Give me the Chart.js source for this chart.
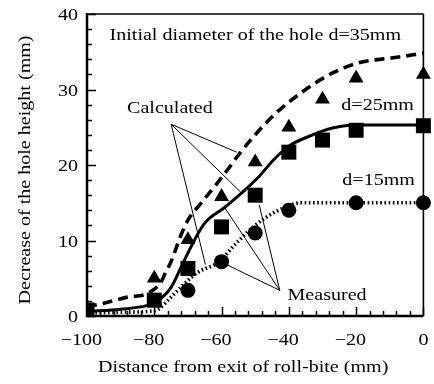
<!DOCTYPE html>
<html>
<head>
<meta charset="utf-8">
<script src="https://cdn.jsdelivr.net/npm/chart.js@4/dist/chart.umd.min.js"></script>
<style>
  html, body { margin: 0; background: #fff; }
  canvas { display: block; }
</style>
</head>
<body>
<canvas id="chart" width="434" height="384"></canvas>
<script>
const SERIF = '"Liberation Serif", "DejaVu Serif", serif';

// calculated curves, [distance (mm), decrease (mm)]
const calc35 = [[-100, 1.2], [-95, 1.7], [-88, 2.5], [-82, 3], [-78, 4.5], [-76.7, 5.7], [-75, 7.2],
  [-72, 10.8], [-70, 12.7], [-66, 15], [-62, 17.2], [-58, 19.5], [-54, 21.9], [-50, 24],
  [-44, 26.8], [-35, 30], [-26.5, 32.3], [-18.6, 33.6], [-9, 34.2], [0, 34.8]];
const calc25 = [[-100, 0.6], [-90, 0.9], [-82, 1.4], [-79, 2], [-75, 3.8], [-72, 6.5], [-68, 10.1],
  [-65, 12.3], [-59, 14.4], [-54, 16.3], [-49, 18.4], [-44.5, 20.7], [-40, 22.5], [-34, 23.8],
  [-27, 24.9], [-20, 25.3], [0, 25.3]];
const calc15 = [[-100, 0.4], [-90, 0.5], [-80, 0.7], [-78.8, 0.9], [-75, 2.5], [-71, 4.3], [-67, 5.8],
  [-61, 7.1], [-55.5, 9.7], [-50, 12], [-44, 13.8], [-36, 15], [0, 15]];

// measured points
const meas35X = [-80, -70, -60, -50, -40, -30, -20, 0];
const meas35Y = [5.0, 10.1, 15.8, 20.4, 25.0, 28.7, 31.5, 32.0];
const meas25X = [-100, -80, -70, -60, -50, -40, -30, -20, 0];
const meas25Y = [0.8, 2.1, 6.3, 11.8, 16.0, 21.7, 23.3, 24.6, 25.2];
const meas15X = [-70, -60, -50, -40, -20, 0];
const meas15Y = [3.4, 7.2, 11.0, 14.0, 15.0, 15.0];

const xTicks = [-100, -80, -60, -40, -20, 0];
const yTicks = [0, 10, 20, 30, 40];

// leader lines of the "Calculated" and "Measured" notes
const calcFrom = [-75, 25.4];
const calcTo = [[-55.5, 21.7], [-54.3, 16.4], [-64.8, 6.8]];
const measFrom = [-42.7, 3.4];
const measTo = [[-58.5, 6.8], [-59, 14.3], [-48.8, 14.7]];

const toXY = (xs, ys) => xs.map((x, i) => ({ x: x, y: ys[i] }));
const pairs = (list) => list.map(([x, y]) => ({ x: x, y: y }));

function text(ctx, str, x, y, align) {
  // scanned figure: glyphs look a bit wider than they are tall
  const sx = 1.18;
  ctx.save();
  ctx.font = `17px ${SERIF}`;
  const w = ctx.measureText(str).width * sx;
  let left = x;
  if (align === "center") left = x - w / 2;
  if (align === "right") left = x - w;
  ctx.translate(left, y);
  ctx.scale(sx, 1);
  ctx.textAlign = "left";
  ctx.textBaseline = "alphabetic";
  ctx.fillText(str, 0, 0);
  ctx.restore();
  return w;
}

const paperPlugin = {
  id: "paper",
  beforeDraw(chart) {
    const ctx = chart.ctx;
    ctx.save();
    ctx.fillStyle = "#fff";
    ctx.fillRect(0, 0, chart.width, chart.height);
    ctx.restore();
  },
  afterDraw(chart) {
    const { ctx, chartArea: a, scales: { x, y } } = chart;
    ctx.save();
    ctx.strokeStyle = "#000";
    ctx.fillStyle = "#000";

    // frame
    ctx.lineWidth = 1.6;
    ctx.beginPath();
    ctx.moveTo(a.left, a.top); ctx.lineTo(a.right, a.top);
    ctx.moveTo(a.right, a.top); ctx.lineTo(a.right, a.bottom);
    ctx.stroke();
    ctx.lineWidth = 2.5;
    ctx.beginPath();
    ctx.moveTo(a.left, a.top - 1); ctx.lineTo(a.left, a.bottom);
    ctx.lineTo(a.right, a.bottom);
    ctx.stroke();

    // inward ticks
    ctx.lineWidth = 1.5;
    ctx.beginPath();
    for (let v = 0; v <= 40; v += 2) {
      const py = Math.round(y.getPixelForValue(v)) + 0.5;
      const len = v % 10 === 0 ? 9 : 5;
      ctx.moveTo(a.left, py); ctx.lineTo(a.left + len, py);
    }
    for (let v = -100; v <= 0; v += 4) {
      const px = Math.round(x.getPixelForValue(v)) + 0.5;
      const len = v % 20 === 0 ? 9 : 5;
      ctx.moveTo(px, a.bottom); ctx.lineTo(px, a.bottom - len);
    }
    ctx.stroke();

    // tick labels
    yTicks.forEach((v) => {
      text(ctx, String(v), a.left - 9, y.getPixelForValue(v) + 6, "right");
    });
    ctx.font = `17px ${SERIF}`;
    const minusW = ctx.measureText("\u2212").width * 1.18;
    xTicks.forEach((v) => {
      const label = v < 0 ? "\u2212" + Math.abs(v) : String(v);
      let px = x.getPixelForValue(v) - (v < 0 ? minusW / 2 : 0);
      px = Math.min(px, chart.width - 8);
      text(ctx, label, px, a.bottom + 29, "center");
    });

    // leader lines
    ctx.lineWidth = 1;
    ctx.beginPath();
    calcTo.forEach(([tx, ty]) => {
      ctx.moveTo(x.getPixelForValue(calcFrom[0]), y.getPixelForValue(calcFrom[1]));
      ctx.lineTo(x.getPixelForValue(tx), y.getPixelForValue(ty));
    });
    measTo.forEach(([tx, ty]) => {
      ctx.moveTo(x.getPixelForValue(measFrom[0]), y.getPixelForValue(measFrom[1]));
      ctx.lineTo(x.getPixelForValue(tx), y.getPixelForValue(ty));
    });
    ctx.stroke();

    // notes
    text(ctx, "Initial diameter of the hole d=35mm", x.getPixelForValue(-93.3), y.getPixelForValue(36.6), "left");
    text(ctx, "d=25mm", x.getPixelForValue(-24.4), y.getPixelForValue(27.3), "left");
    text(ctx, "d=15mm", x.getPixelForValue(-24.1), y.getPixelForValue(17.4), "left");
    text(ctx, "Calculated", x.getPixelForValue(-88.1), y.getPixelForValue(26.9), "left");
    text(ctx, "Measured", x.getPixelForValue(-40.4), y.getPixelForValue(2.1), "left");

    // axis titles
    text(ctx, "Distance from exit of roll-bite (mm)", (a.left + a.right) / 2 - 12, a.bottom + 56, "center");
    ctx.save();
    ctx.translate(a.left - 57, (a.top + a.bottom) / 2 + 5);
    ctx.rotate(-Math.PI / 2);
    text(ctx, "Decrease of the hole height (mm)", 0, 0, "center");
    ctx.restore();

    ctx.restore();
  },
};

function curve(data, width, dash) {
  return {
    data: pairs(data),
    showLine: true,
    borderColor: "#000",
    borderWidth: width,
    borderDash: dash,
    pointRadius: 0,
    cubicInterpolationMode: "monotone",
    clip: 2,
  };
}

function marks(data, style, radius) {
  return {
    data: data,
    showLine: false,
    pointStyle: style,
    pointRadius: radius,
    pointBackgroundColor: "#000",
    pointBorderWidth: 0,
    clip: { left: 0, top: false, right: false, bottom: 0 },
  };
}

new Chart(document.getElementById("chart"), {
  type: "scatter",
  data: {
    datasets: [
      curve(calc35, 3.6, [10, 6]),
      curve(calc25, 3, []),
      curve(calc15, 3.6, [1.6, 2.6]),
      marks(toXY(meas35X, meas35Y), "triangle", 8.6),
      marks(toXY(meas25X, meas25Y), "rect", 10.6),
      marks(toXY(meas15X, meas15Y), "circle", 7.5),
    ],
  },
  options: {
    responsive: false,
    animation: false,
    devicePixelRatio: 1,
    layout: { padding: { top: 14, right: 2, left: 0, bottom: 0 } },
    plugins: { legend: { display: false }, tooltip: { enabled: false } },
    scales: {
      x: {
        type: "linear",
        min: -100,
        max: 0,
        grid: { display: false },
        border: { display: false },
        ticks: { display: false, stepSize: 20 },
        afterFit(scale) {
          scale.height = 68;
          scale.paddingLeft = 0;
          scale.paddingRight = 0;
        },
      },
      y: {
        min: 0,
        max: 40,
        grid: { display: false },
        border: { display: false },
        ticks: { display: false, stepSize: 10 },
        afterFit(scale) {
          scale.width = 87;
          scale.paddingTop = 0;
          scale.paddingBottom = 0;
        },
      },
    },
  },
  plugins: [paperPlugin],
});
</script>
</body>
</html>
